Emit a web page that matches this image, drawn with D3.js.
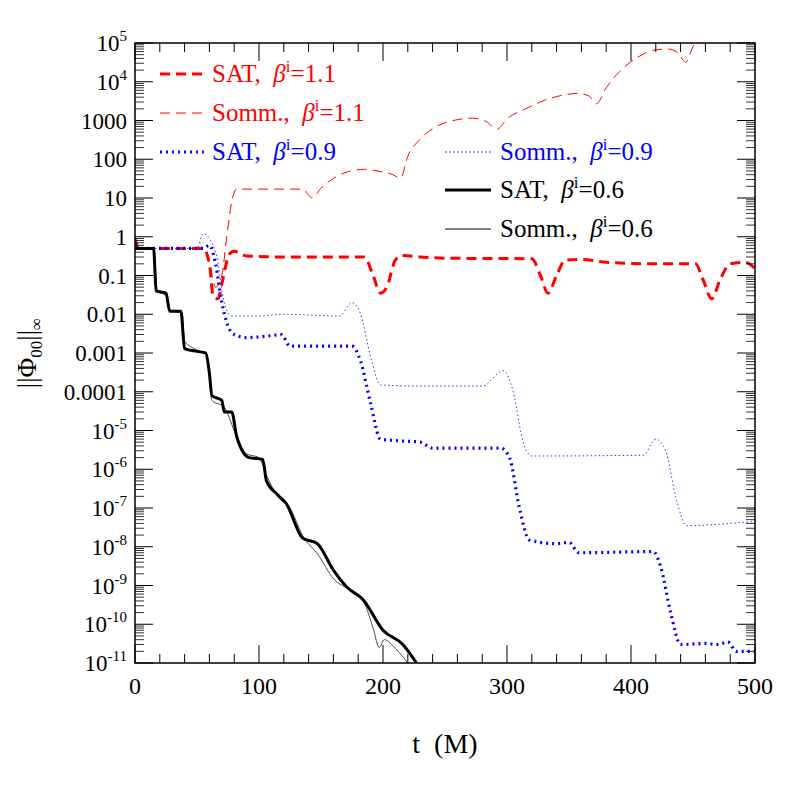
<!DOCTYPE html>
<html><head><meta charset="utf-8">
<script src="https://cdn.jsdelivr.net/npm/d3@7"></script>
<style>body{margin:0;background:#fff}text{font-family:"Liberation Serif","DejaVu Serif",serif}</style>
</head><body><svg id="c" width="797" height="797"></svg>
<script>
const xTicks=[0,100,200,300,400,500];
const yTicks=[1e5,1e4,1000,100,10,1,0.1,0.01,0.001,0.0001,1e-5,1e-6,1e-7,1e-8,1e-9,1e-10,1e-11];
const yTickLabels=[["10","5"],["10","4"],"1000","100","10","1","0.1","0.01","0.001","0.0001",["10","-5"],["10","-6"],["10","-7"],["10","-8"],["10","-9"],["10","-10"],["10","-11"]];
const satB11=[[0,0.9],[3,0.5],[55,0.5],[60,0.2],[63,0.03],[67,0.025],[70,0.06],[76,0.35],[80,0.42],[90,0.32],[120,0.3],[185,0.3],[192,0.1],[198,0.035],[203,0.05],[210,0.25],[216,0.33],[230,0.3],[250,0.28],[320,0.27],[327,0.1],[333,0.035],[340,0.1],[347,0.25],[360,0.26],[380,0.22],[420,0.2],[452,0.2],[458,0.08],[465,0.025],[472,0.08],[480,0.2],[492,0.22],[500,0.15]];
const sommB11=[[0,0.9],[3,0.5],[55,0.5],[60,0.2],[65,0.05],[70,0.1],[74,1],[78,8],[82,17],[135,17],[143,10],[150,18],[160,32],[172,48],[185,55],[198,48],[208,40],[214,32],[220,120],[230,330],[245,750],[260,1050],[272,1150],[283,950],[292,600],[300,1100],[315,2000],[330,3300],[345,4500],[357,5000],[366,4300],[372,2700],[380,7000],[392,20000],[405,42000],[418,65000],[430,70000],[438,55000],[444,32000],[450,80000],[456,150000]];
const satB09=[[0,0.5],[55,0.5],[60,0.6],[65,0.2],[70,0.02],[75,0.005],[80,0.003],[90,0.0025],[110,0.0028],[118,0.003],[125,0.0015],[175,0.0015],[182,0.0006],[190,0.00005],[198,0.000006],[210,0.0000055],[230,0.000005],[240,0.0000035],[295,0.0000035],[302,0.000002],[310,1e-7],[318,1.5e-8],[340,1.2e-8],[350,1.3e-8],[358,7e-9],[418,7.5e-9],[424,3e-9],[432,2e-10],[440,3e-11],[460,3.2e-11],[470,3e-11],[478,3.5e-11],[485,2e-11],[500,2e-11]];
const sommB09=[[0,0.5],[50,0.5],[55,1.2],[60,0.9],[66,0.3],[72,0.02],[78,0.009],[100,0.009],[120,0.01],[165,0.009],[175,0.02],[182,0.01],[190,0.0008],[198,0.00015],[230,0.00014],[280,0.00014],[297,0.00035],[305,0.0001],[313,0.000005],[320,0.0000022],[410,0.0000023],[420,0.000006],[428,0.000003],[436,0.0000002],[445,0.000000035],[480,0.00000004],[500,0.000000045]];
const satB06=[[0,0.5],[15,0.5],[17,0.04],[25,0.035],[28,0.012],[37,0.012],[40,0.0013],[50,0.0011],[57,0.001],[60,0.0003],[62,0.00008],[70,0.00006],[72,0.00003],[78,0.00003],[82,0.000007],[92,0.000002],[103,0.0000018],[106,0.0000005],[115,0.00000022],[122,0.00000013],[135,0.000000017],[147,0.000000012],[160,0.0000000025],[171,0.0000000009],[184,0.00000000043],[200,0.00000000007],[216,0.00000000003],[227,1e-11]];
const sommB06=[[0,0.9],[3,0.5],[15,0.5],[18,0.04],[25,0.03],[28,0.012],[38,0.011],[40,0.002],[50,0.0012],[58,0.0009],[62,0.00006],[72,0.00004],[80,0.00001],[90,0.0000025],[100,0.000002],[106,0.0000007],[115,0.0000002],[125,0.0000001],[135,0.00000002],[148,0.000000006],[160,0.0000000015],[172,0.0000000008],[184,0.0000000004],[192,0.00000000008],[197,0.000000000025],[201,0.00000000004],[211,0.000000000022],[220,1e-11]];
const legendItems=[["SAT, ","1.1","red",3,"10,6"],["Somm., ","1.1","red",1,"10,6"],["SAT, ","0.9","blue",3,"2,4"],["Somm., ","0.9","blue",1,"1.5,2.5"],["SAT, ","0.6","black",3,null],["Somm., ","0.6","black",1,null]];

const svg=d3.select("#c");
const L=135,R=755,T=43,B=663;
const x=d3.scaleLinear().domain([0,500]).range([L,R]);
const y=d3.scaleLog().domain([1e-11,1e5]).range([B,T]);
svg.append("clipPath").attr("id","cp").append("rect").attr("x",L).attr("y",T).attr("width",R-L).attr("height",B-T);
const line=d3.line().x(d=>x(d[0])).y(d=>y(Math.max(d[1],1e-12))).curve(d3.curveMonotoneX);
const series=[[sommB11,"red",1,"10,6"],[satB11,"red",3,"10,6"],[sommB09,"blue",0.8,"1.5,2.5"],[satB09,"blue",3.2,"2,4"],[sommB06,"#222",0.8,null],[satB06,"black",3,null]];
const g=svg.append("g").attr("clip-path","url(#cp)");
series.forEach(s=>g.append("path").attr("d",line(s[0])).attr("fill","none").attr("stroke",s[1]).attr("stroke-width",s[2]).attr("stroke-dasharray",s[3]).attr("stroke-linejoin","round"));
svg.append("rect").attr("x",L).attr("y",T).attr("width",R-L).attr("height",B-T).attr("fill","none").attr("stroke","black").attr("stroke-width",1.5);
const ax=svg.append("g");
for(let t=0;t<=500;t+=20){const maj=t%100===0,len=maj?18:9;
 ax.append("line").attr("x1",x(t)).attr("x2",x(t)).attr("y1",B).attr("y2",B-len).attr("stroke","black");
 ax.append("line").attr("x1",x(t)).attr("x2",x(t)).attr("y1",T).attr("y2",T+len).attr("stroke","black");}
xTicks.forEach(t=>ax.append("text").attr("x",x(t)).attr("y",B+31).attr("text-anchor","middle").attr("font-size",24).text(t));
for(let e=-11;e<=5;e++){
 [L,R].forEach((px,i)=>{const dir=i?-1:1;
  ax.append("line").attr("x1",px).attr("x2",px+dir*18).attr("y1",y(10**e)).attr("y2",y(10**e)).attr("stroke","black");
  if(e<5)for(let m=2;m<10;m++)ax.append("line").attr("x1",px).attr("x2",px+dir*9).attr("y1",y(m*10**e)).attr("y2",y(m*10**e)).attr("stroke","black").attr("stroke-width",0.8);});}
yTicks.forEach((v,i)=>{const lab=yTickLabels[i];const t=ax.append("text").attr("x",L-8).attr("y",y(v)+8).attr("text-anchor","end").attr("font-size",23);
 if(Array.isArray(lab)){t.append("tspan").text(lab[0]);t.append("tspan").attr("dy",-10).attr("font-size",15).text(lab[1]);}else t.text(lab);});
svg.append("text").attr("x",445).attr("y",753).attr("text-anchor","middle").attr("font-size",28).attr("xml:space","preserve").text("t  (M)");
const yl=svg.append("text").attr("transform","translate(36,353) rotate(-90)").attr("text-anchor","middle").attr("font-size",27);
yl.append("tspan").text("||Φ");yl.append("tspan").attr("font-size",17).attr("dy",6).text("00");yl.append("tspan").attr("dy",-6).text("||");yl.append("tspan").attr("font-size",17).attr("dy",6).text("∞");
const pos=[[160,212,74],[160,212,113],[160,212,152],[445,500,152],[445,500,190],[445,500,229]];
legendItems.forEach((it,i)=>{const [lx,tx,ly]=pos[i];
 svg.append("line").attr("x1",lx).attr("x2",lx+46).attr("y1",ly).attr("y2",ly).attr("stroke",it[2]).attr("stroke-width",it[3]).attr("stroke-dasharray",it[4]);
 const t=svg.append("text").attr("x",tx).attr("y",ly+8).attr("font-size",25).attr("fill",it[2]).attr("xml:space","preserve");
 t.append("tspan").text(it[0]+" ");t.append("tspan").attr("font-style","italic").text("β");t.append("tspan").attr("dy",-10).attr("font-size",17).text("i");t.append("tspan").attr("dy",10).text("=");t.append("tspan").text(it[1]);});
</script></body></html>
